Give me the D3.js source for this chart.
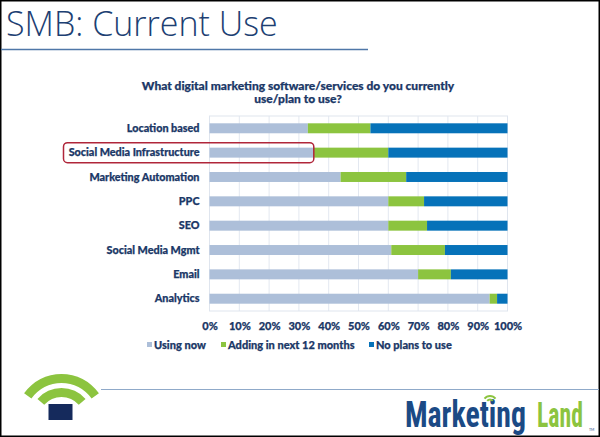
<!DOCTYPE html>
<html>
<head>
<meta charset="utf-8">
<script src="https://cdn.jsdelivr.net/npm/d3@7"></script>
<style>
  body { margin: 0; background: #fff; }
  svg { display: block; }
</style>
</head>
<body>
<div id="chart"></div>
<script>
// data
const categories = ['Location based', 'Social Media Infrastructure', 'Marketing Automation', 'PPC',
  'SEO', 'Social Media Mgmt', 'Email', 'Analytics'];
const usingNow = [33, 35, 44, 60, 60, 61, 70, 94];
const addingNext = [21, 25, 22, 12, 13, 18, 11, 2.5];
const noPlans = [46, 40, 34, 28, 27, 21, 19, 3.5];
const seriesNames = ['Using now', 'Adding in next 12 months', 'No plans to use'];
const tickValues = [0, 10, 20, 30, 40, 50, 60, 70, 80, 90, 100];
const highlighted = 'Social Media Infrastructure';

const W = 600, H = 437;
const navy = '#1b3867';
const colors = ['#adbfd9', '#8cc43f', '#0672b9'];
const labelFont = 'Lato, "Open Sans", sans-serif';

const svg = d3.select('#chart').append('svg').attr('width', W).attr('height', H);

// heavier bold text, like the slide's font
function heavy(sel, size) {
  sel.style('font-family', labelFont).style('font-weight', 900).style('font-size', size)
    .style('fill', navy).style('stroke', navy).style('stroke-width', 0.25);
}

// slide frame
svg.append('rect').attr('x', 0.75).attr('y', 0.75).attr('width', W - 1.5).attr('height', H - 1.5)
  .attr('fill', '#fff').attr('stroke', '#000').attr('stroke-width', 1.5);

// slide title + rule
svg.append('text').attr('x', 6).attr('y', 36).text('SMB: Current Use')
  .style('font-family', '"Open Sans", sans-serif').style('font-weight', 300)
  .style('font-size', '34px').style('fill', '#1d3f73');
svg.append('line').attr('x1', 1).attr('x2', 368).attr('y1', 49.5).attr('y2', 49.5)
  .attr('stroke', '#4f77a8').attr('stroke-width', 1.5);

// chart title
const sub = svg.append('text').attr('text-anchor', 'middle').call(heavy, '12px');
sub.append('tspan').attr('x', 298).attr('y', 89.5).text('What digital marketing software/services do you currently');
sub.append('tspan').attr('x', 298).attr('y', 103).text('use/plan to use?');

const margin = {top: 116, left: 209.5, right: 92.5, bottom: 126};
const width = W - margin.left - margin.right;
const height = H - margin.top - margin.bottom;

const g = svg.append('g').attr('transform', 'translate(' + margin.left + ',' + margin.top + ')');

const x = d3.scaleLinear().domain([0, 100]).range([0, width]);
const y = d3.scaleBand().domain(categories).range([0, height]).paddingInner(0.59).paddingOuter(0.3);

// gridlines
g.append('g').selectAll('line').data(tickValues).join('line')
  .attr('x1', d => x(d)).attr('x2', d => x(d)).attr('y1', 0).attr('y2', height)
  .attr('stroke', '#e3e8f0').attr('stroke-width', 1);
g.append('rect').attr('x', 0).attr('y', 0).attr('width', width).attr('height', height)
  .attr('fill', 'none').attr('stroke', '#dfe5ee').attr('stroke-width', 1);

// stacked bars
const rows = categories.map((c, i) => ({cat: c, a: usingNow[i], b: addingNext[i], c: noPlans[i]}));
const stack = d3.stack().keys(['a', 'b', 'c'])(rows);

g.append('g').selectAll('g').data(stack).join('g')
  .attr('fill', (d, i) => colors[i])
  .selectAll('rect').data(d => d).join('rect')
  .attr('x', d => x(d[0]))
  .attr('y', d => y(d.data.cat))
  .attr('width', d => x(d[1]) - x(d[0]))
  .attr('height', y.bandwidth());

// category labels
g.append('g').selectAll('text').data(categories).join('text')
  .attr('x', -10).attr('y', d => y(d) + y.bandwidth() / 2).attr('dy', '0.35em')
  .attr('text-anchor', 'end').text(d => d)
  .call(heavy, '10.8px');

// x axis labels
const xAxis = g.append('g').attr('transform', 'translate(0,' + height + ')')
  .call(d3.axisBottom(x).tickValues(tickValues).tickFormat(d => d + '%').tickSize(0).tickPadding(11));
xAxis.select('.domain').remove();
xAxis.selectAll('text').call(heavy, '11px');

// highlight box around the label
const hy = y(highlighted);
svg.append('rect')
  .attr('x', 63.5).attr('y', margin.top + hy + y.bandwidth() / 2 - 10)
  .attr('width', margin.left + x(usingNow[categories.indexOf(highlighted)]) - 63.5)
  .attr('height', 20).attr('rx', 4)
  .attr('fill', 'none').attr('stroke', '#b0263a').attr('stroke-width', 1.5);

// legend
const legendX = [147, 221, 369];
const leg = svg.append('g').selectAll('g').data(seriesNames).join('g')
  .attr('transform', (d, i) => 'translate(' + legendX[i] + ',345)');
leg.append('rect').attr('x', 0).attr('y', -3).attr('width', 5).attr('height', 5).attr('fill', (d, i) => colors[i]);
leg.append('text').attr('x', 7).attr('dy', '0.35em').text(d => d).call(heavy, '11px');

// footer rule
svg.append('line').attr('x1', 101).attr('x2', W - 1).attr('y1', 389.5).attr('y2', 389.5)
  .attr('stroke', '#8fa9c9').attr('stroke-width', 1);

// wifi logo
const arc = d3.arc();
const logo = svg.append('g').attr('transform', 'translate(61.5,420)');
logo.append('path').attr('fill', '#8cc43f')
  .attr('d', arc({innerRadius: 37, outerRadius: 46, startAngle: -0.95, endAngle: 0.95}));
logo.append('path').attr('fill', '#8cc43f')
  .attr('d', arc({innerRadius: 23, outerRadius: 32, startAngle: -0.85, endAngle: 0.85}));
svg.append('rect').attr('x', 48.5).attr('y', 404).attr('width', 24).attr('height', 16).attr('fill', '#152a5c');

// Marketing Land logo: condensed text squeezed to the logo's width
const logoFont = '"Liberation Sans Narrow", "Roboto Condensed", sans-serif';
function logoWord(word, x0, w, color) {
  const t = svg.append('text').attr('x', 0).attr('y', 0).text(word)
    .style('font-family', logoFont).style('font-weight', 700).style('font-size', '36px').style('fill', color);
  const len = t.node().getComputedTextLength();
  t.attr('transform', 'translate(' + x0 + ',427) scale(' + (w / len) + ',1)');
}
logoWord('Marketing', 405, 121, '#1b4a85');
logoWord('Land', 537, 46, '#8cc43f');
// small wifi mark over the i
const mark = svg.append('g').attr('transform', 'translate(490,403)');
mark.append('path').attr('fill', '#8cc43f')
  .attr('d', arc({innerRadius: 6, outerRadius: 8, startAngle: -0.9, endAngle: 0.9}));
mark.append('path').attr('fill', '#8cc43f')
  .attr('d', arc({innerRadius: 2.5, outerRadius: 4.5, startAngle: -0.9, endAngle: 0.9}));
svg.append('text').attr('x', 589).attr('y', 431).text('TM')
  .style('font-family', labelFont).style('font-size', '3.5px').style('fill', '#1b4a85');
</script>
</body>
</html>
